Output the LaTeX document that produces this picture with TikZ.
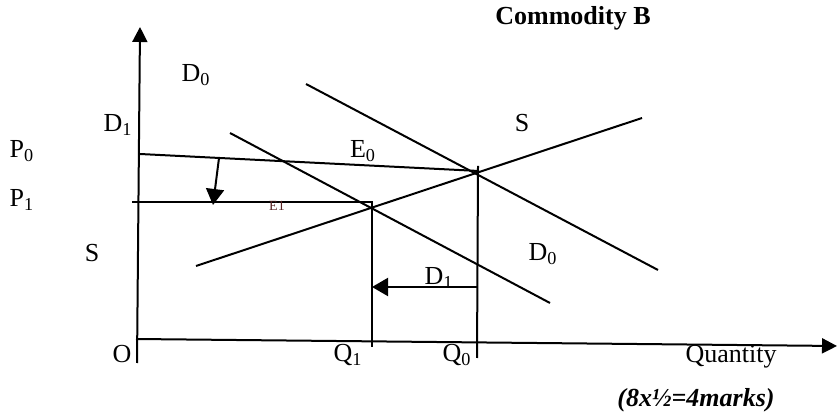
\documentclass[tikz,border=0pt]{standalone}
\usepackage{fontspec}
\setmainfont{Liberation Serif}
\usetikzlibrary{arrows.meta}

\begin{document}
\begin{tikzpicture}[
  x=0.5pt, y=-0.5pt,
  font=\fontsize{13}{15}\selectfont,
  axisline/.style={draw=black, line width=1pt, -{Triangle[length=7.5pt,width=7.5pt]}},
  curve/.style={draw=black, line width=1pt},
  shift arrow/.style={draw=black, line width=1pt, -{Triangle[length=8pt,width=9pt]}},
  label/.style={inner sep=0pt}
]
\useasboundingbox (0,0) rectangle (838,415);

% assi
\coordinate (yb) at (137,363);
\coordinate (yt) at (140,27);
\coordinate (xl) at (136,339);
\coordinate (xr) at (837,346);
\draw[axisline] (yb) -- (yt);
\draw[axisline] (xl) -- (xr);

% prezzi e quantita
\coordinate (p0l) at (140,154);
\coordinate (e0)  at (479,171);
\coordinate (p1l) at (132,202);
\coordinate (e1)  at (372,202);
\coordinate (q1b) at (372,347);
\coordinate (q0t) at (478,166);
\coordinate (q0b) at (477,358);
\draw[curve] (p0l) -- (e0);
\draw[curve] (p1l) -- (e1) -- (q1b);
\draw[curve] (q0t) -- (q0b);

% offerta e domanda
\coordinate (s1)  at (196,266);
\coordinate (s2)  at (642,118);
\coordinate (d0a) at (306,84);
\coordinate (d0b) at (658,270);
\coordinate (d1a) at (230,133);
\coordinate (d1b) at (550,303);
\draw[curve] (s1) -- (s2);
\draw[curve] (d0a) -- (d0b);
\draw[curve] (d1a) -- (d1b);

% spostamenti
\coordinate (a1) at (219,158);
\coordinate (a2) at (213,205);
\coordinate (b1) at (477,287);
\coordinate (b2) at (372,287);
\draw[shift arrow] (a1) -- (a2);
\draw[shift arrow] (b1) -- (b2);

% etichette
\node[label] (title) at (573,18) {\textbf{Commodity B}};
\node[label] (D0t) at (196,75) {D\textsubscript{0}};
\node[label] (D1t) at (118,125) {D\textsubscript{1}};
\node[label] (P0) at (22,151) {P\textsubscript{0}};
\node[label] (P1) at (22,200) {P\textsubscript{1}};
\node[label] (Sl) at (92,253) {S};
\node[label] (E0) at (363,151) {E\textsubscript{0}};
\node[label] (Sr) at (522,123) {S};
\node[label, font=\fontsize{7}{8}\selectfont, text={rgb,1:red,0.35;green,0.15;blue,0.15}] (E1) at (277,206) {E1};
\node[label] (D0b) at (543,254) {D\textsubscript{0}};
\node[label] (D1b) at (439,278) {D\textsubscript{1}};
\node[label] (O) at (122,354) {O};
\node[label] (Q1) at (348,355) {Q\textsubscript{1}};
\node[label] (Q0) at (457,355) {Q\textsubscript{0}};
\node[label] (qty) at (731,357) {Quantity};
\node[label] (marks) at (696,400) {\textbf{\textit{(8x½=4marks)}}};

\end{tikzpicture}
\end{document}
